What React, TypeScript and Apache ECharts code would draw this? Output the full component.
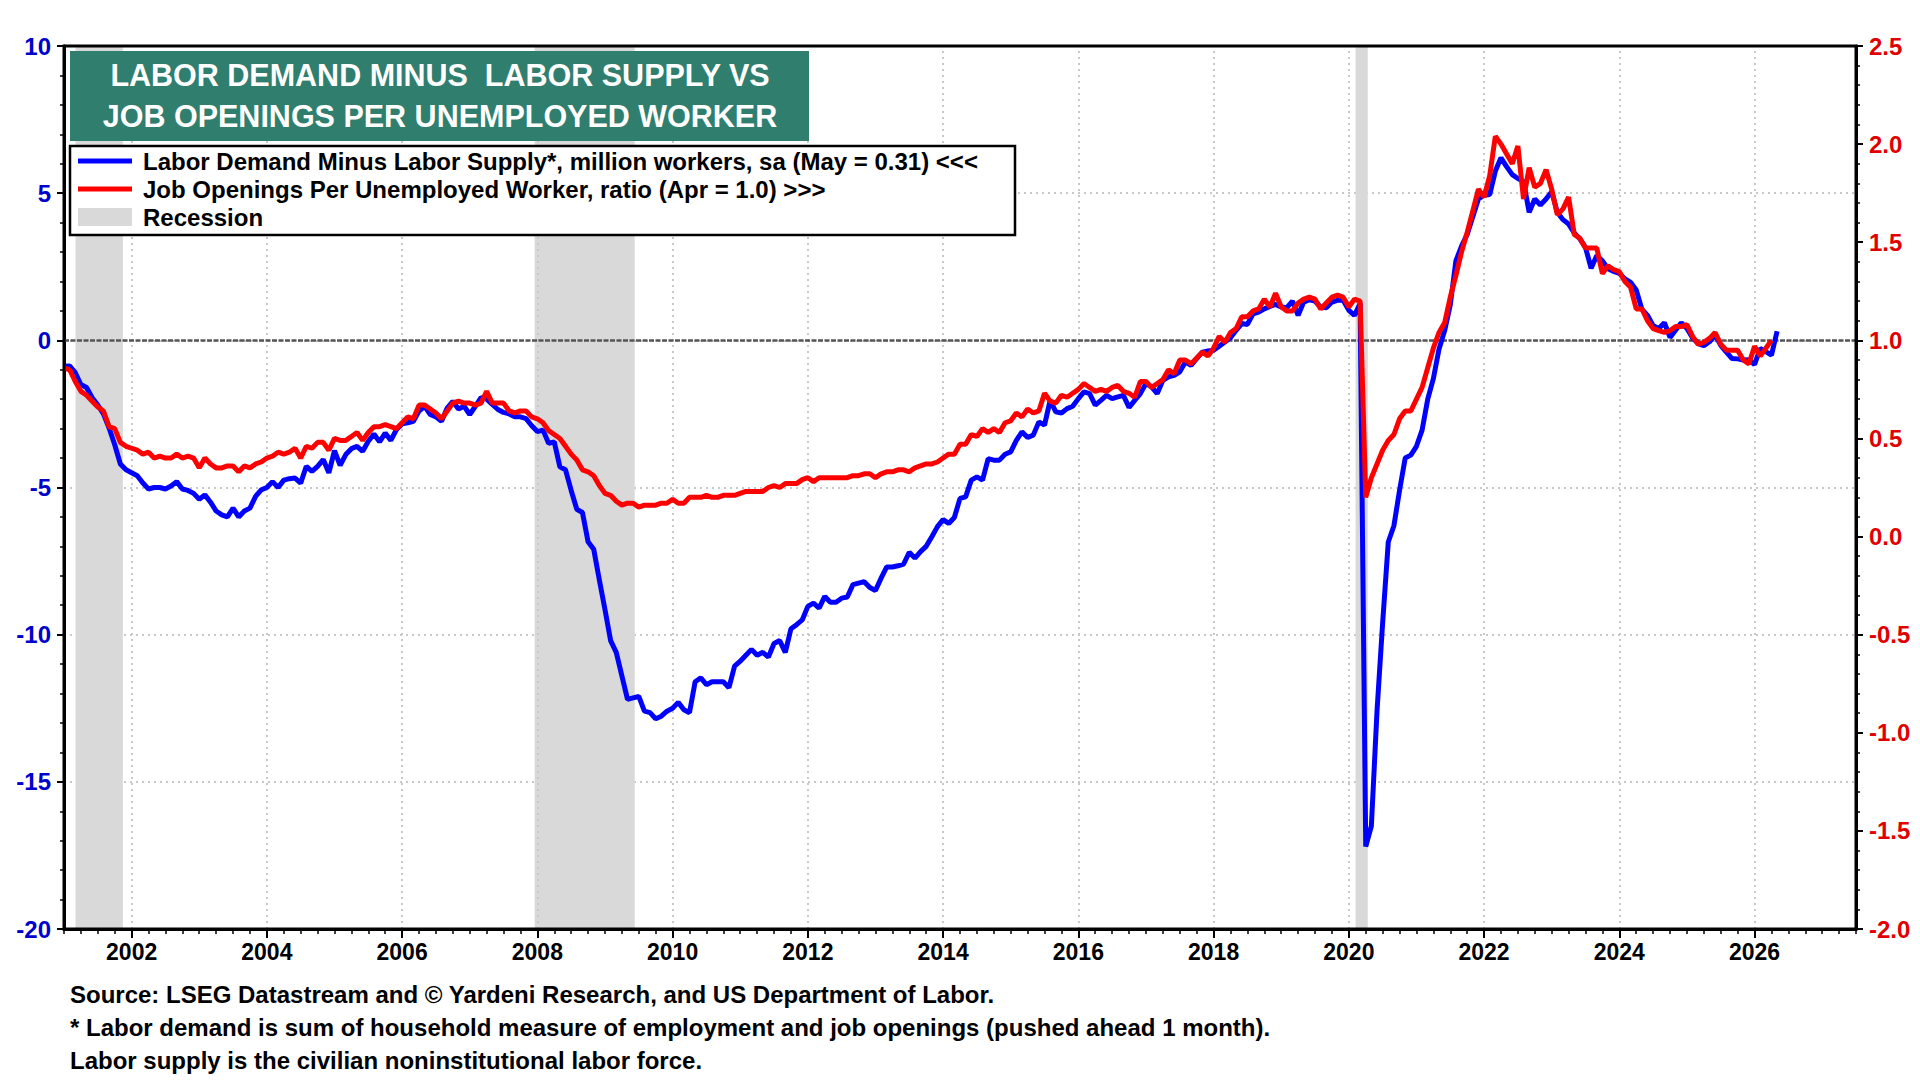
import { useEffect, useRef } from "react"
import * as echarts from "echarts"

// monthly values, first point = Jan 2001
const START_YEAR = 2001

// Labor demand minus labor supply, million workers (left axis), Jan 2001 .. May 2026
const laborGap = [
  -0.88, -0.87, -1.1, -1.5, -1.6, -1.95, -2.2, -2.5, -2.98, -3.55, -4.2, -4.4,
  -4.5, -4.6, -4.85, -5.05, -5.0, -5.0, -5.05, -4.95, -4.8, -5.05, -5.1, -5.2,
  -5.4, -5.25, -5.5, -5.8, -5.93, -6.0, -5.7, -6.0, -5.8, -5.7, -5.3, -5.08,
  -5.0, -4.8, -5.0, -4.75, -4.7, -4.68, -4.85, -4.28, -4.45, -4.28, -4.05, -4.5,
  -3.75, -4.25, -3.88, -3.68, -3.6, -3.77, -3.43, -3.18, -3.45, -3.15, -3.4, -3.03,
  -2.84, -2.8, -2.75, -2.4, -2.24, -2.52, -2.6, -2.75, -2.3, -2.07, -2.33, -2.24,
  -2.52, -2.24, -1.95, -2.0, -2.18, -2.35, -2.45, -2.5, -2.6, -2.6, -2.66, -2.9,
  -3.1, -3.05, -3.5, -3.45, -4.3, -4.4, -5.1, -5.74, -5.85, -6.84, -7.1, -8.14,
  -9.15, -10.2, -10.6, -11.4, -12.2, -12.15, -12.1, -12.6, -12.65, -12.86, -12.77, -12.6,
  -12.5, -12.3, -12.55, -12.65, -11.6, -11.47, -11.7, -11.6, -11.6, -11.6, -11.8, -11.07,
  -10.9, -10.7, -10.5, -10.7, -10.6, -10.76, -10.3, -10.2, -10.6, -9.8, -9.66, -9.5,
  -9.04, -8.93, -9.1, -8.7, -8.9, -8.9, -8.76, -8.72, -8.3, -8.25, -8.2, -8.4,
  -8.5, -8.08, -7.7, -7.7, -7.66, -7.6, -7.2, -7.4, -7.18, -7.0, -6.67, -6.33,
  -6.09, -6.22, -6.02, -5.37, -5.32, -4.75, -4.64, -4.75, -4.02, -4.07, -4.07, -3.87,
  -3.79, -3.4, -3.11, -3.3, -3.22, -2.77, -2.88, -2.04, -2.43, -2.47, -2.32, -2.24,
  -1.98, -1.75, -1.81, -2.2, -2.04, -1.87, -1.98, -1.92, -1.87, -2.28, -2.04, -1.81,
  -1.47, -1.58, -1.81, -1.36, -1.24, -1.19, -1.07, -0.74, -0.85, -0.62, -0.4, -0.36,
  -0.34, -0.2, -0.06, 0.09, 0.34, 0.57, 0.54, 0.9, 0.96, 1.07, 1.15, 1.22,
  1.13, 1.11, 1.33, 0.85, 1.3, 1.38, 1.33, 1.13, 1.11, 1.3, 1.36, 1.36,
  1.02, 0.85, 1.25, -17.2, -16.5, -12.6, -9.6, -6.85, -6.3, -5.1, -4.0, -3.9,
  -3.6, -3.05, -2.0, -1.3, -0.3, 0.33, 1.2, 2.7, 3.2, 3.6, 4.2, 4.8,
  4.93, 4.95, 5.75, 6.2, 5.9, 5.63, 5.5, 5.4, 4.35, 4.8, 4.6, 4.8,
  5.05, 4.35, 4.1, 3.95, 3.65, 3.45, 3.15, 2.45, 2.88, 2.7, 2.43, 2.34,
  2.27, 2.09, 1.97, 1.71, 1.06, 0.85, 0.5, 0.4, 0.6, 0.1, 0.35, 0.6,
  0.4, 0.08, -0.11, -0.18, -0.05, 0.18, -0.17, -0.4, -0.62, -0.63, -0.67, -0.66,
  -0.82, -0.28, -0.38, -0.5, 0.31,
]

// Job openings per unemployed worker, ratio (right axis), Jan 2001 .. Apr 2026
const openingsRatio = [
  0.86, 0.85, 0.79, 0.74, 0.72, 0.69, 0.66, 0.64, 0.56, 0.55, 0.48, 0.46,
  0.45, 0.44, 0.42, 0.43, 0.4, 0.41, 0.4, 0.4, 0.42, 0.4, 0.41, 0.4,
  0.35, 0.4, 0.37, 0.35, 0.35, 0.36, 0.36, 0.33, 0.36, 0.35, 0.37, 0.38,
  0.4, 0.41, 0.43, 0.42, 0.43, 0.45, 0.4, 0.46, 0.45, 0.48, 0.48, 0.44,
  0.5, 0.49, 0.49, 0.51, 0.53, 0.49, 0.53, 0.56, 0.56, 0.57, 0.56, 0.55,
  0.58, 0.61, 0.6, 0.67, 0.67, 0.65, 0.63, 0.6, 0.64, 0.68, 0.69, 0.68,
  0.68, 0.67, 0.68, 0.74, 0.68, 0.68, 0.68, 0.64, 0.63, 0.64, 0.64, 0.61,
  0.6, 0.58, 0.54, 0.52, 0.5, 0.46, 0.42, 0.39, 0.34, 0.33, 0.31, 0.26,
  0.22, 0.21, 0.18, 0.16, 0.17, 0.17, 0.15, 0.16, 0.16, 0.16, 0.17, 0.17,
  0.19, 0.17, 0.17, 0.2, 0.2, 0.2, 0.21, 0.2, 0.2, 0.21, 0.21, 0.21,
  0.22, 0.23, 0.23, 0.23, 0.23, 0.25, 0.26, 0.25, 0.27, 0.27, 0.27, 0.29,
  0.3, 0.28, 0.3, 0.3, 0.3, 0.3, 0.3, 0.3, 0.31, 0.31, 0.32, 0.32,
  0.3, 0.32, 0.33, 0.33, 0.34, 0.34, 0.33, 0.35, 0.36, 0.37, 0.37, 0.38,
  0.4, 0.42, 0.42, 0.47, 0.47, 0.52, 0.51, 0.55, 0.53, 0.55, 0.53, 0.58,
  0.59, 0.63, 0.61, 0.65, 0.63, 0.64, 0.73, 0.69, 0.68, 0.72, 0.71, 0.73,
  0.75, 0.78, 0.76, 0.74, 0.75, 0.74, 0.76, 0.77, 0.74, 0.73, 0.71, 0.79,
  0.79, 0.76, 0.78, 0.8, 0.85, 0.83, 0.9, 0.9, 0.88, 0.91, 0.94, 0.92,
  0.96, 1.02, 0.99, 1.04, 1.06, 1.12, 1.12, 1.15, 1.16, 1.21, 1.17, 1.24,
  1.17, 1.15, 1.15, 1.19, 1.21, 1.22, 1.21, 1.16, 1.19, 1.22, 1.23, 1.22,
  1.17, 1.21, 1.2, 0.2, 0.3, 0.37, 0.44, 0.49, 0.52, 0.6, 0.64, 0.64,
  0.7, 0.76, 0.86, 0.96, 1.04, 1.09, 1.22, 1.33, 1.45, 1.55, 1.66, 1.77,
  1.73, 1.84, 2.04, 2.0, 1.95, 1.9, 1.99, 1.72, 1.88, 1.78, 1.8, 1.87,
  1.77, 1.64, 1.67, 1.73, 1.54, 1.52, 1.47, 1.47, 1.47, 1.34, 1.38, 1.36,
  1.35, 1.3, 1.27, 1.16, 1.16, 1.1, 1.06, 1.05, 1.04, 1.05, 1.07, 1.07,
  1.08, 1.02, 0.98, 0.99, 1.01, 1.04, 0.98, 0.95, 0.95, 0.95, 0.9, 0.88,
  0.97, 0.92, 0.96, 1.0,
]

// recession periods as [start, end] in decimal years
const recessions = [
  [2001.17, 2001.87],
  [2007.96, 2009.44],
  [2020.1, 2020.28],
]

// labelled years: long ticks, dotted verticals
const gridYears = [2002, 2004, 2006, 2008, 2010, 2012, 2014, 2016, 2018, 2020, 2022, 2024, 2026]

const titleLines = ["LABOR DEMAND MINUS  LABOR SUPPLY VS", "JOB OPENINGS PER UNEMPLOYED WORKER"]

const legendItems = [
  { label: "Labor Demand Minus Labor Supply*, million workers, sa (May = 0.31) <<<", color: "#0000ff", kind: "line" },
  { label: "Job Openings Per Unemployed Worker, ratio (Apr = 1.0) >>>", color: "#ff0000", kind: "line" },
  { label: "Recession", color: "#d9d9d9", kind: "box" },
]

const footnotes = [
  "Source: LSEG Datastream and © Yardeni Research, and US Department of Labor.",
  "* Labor demand is sum of household measure of employment and job openings (pushed ahead 1 month).",
  "Labor supply is the civilian noninstitutional labor force.",
]

const FONT = "'Liberation Sans', Arial, sans-serif"

const toPoints = (values: number[]) => values.map((v, i) => [START_YEAR + i / 12, v])

function buildGraphic() {
  const items: any[] = [
    {
      type: "rect",
      silent: true,
      z: 50,
      shape: { x: 64, y: 46, width: 1792, height: 883 },
      style: { fill: "none", stroke: "#000", lineWidth: 3 },
    },
    {
      type: "rect",
      silent: true,
      z: 60,
      shape: { x: 70, y: 51, width: 739, height: 90 },
      style: { fill: "#2f7e6e" },
    },
    {
      type: "rect",
      silent: true,
      z: 60,
      shape: { x: 70, y: 146, width: 945, height: 89 },
      style: { fill: "#fff", stroke: "#000", lineWidth: 2.5 },
    },
  ]

  titleLines.forEach((t, i) => {
    items.push({
      type: "text",
      silent: true,
      z: 61,
      x: 440,
      y: 75 + i * 41,
      style: {
        text: t,
        fill: "#fff",
        fontFamily: FONT,
        fontSize: 30.5,
        fontWeight: "bold",
        textAlign: "center",
        textVerticalAlign: "middle",
      },
    })
  })

  legendItems.forEach((item, i) => {
    const y = 161 + i * 28
    if (item.kind === "line") {
      items.push({
        type: "line",
        silent: true,
        z: 61,
        shape: { x1: 78, y1: y, x2: 132, y2: y },
        style: { stroke: item.color, lineWidth: 5 },
      })
    } else {
      items.push({
        type: "rect",
        silent: true,
        z: 61,
        shape: { x: 78, y: y - 9, width: 54, height: 18 },
        style: { fill: item.color },
      })
    }
    items.push({
      type: "text",
      silent: true,
      z: 61,
      x: 143,
      y,
      style: {
        text: item.label,
        fill: "#000",
        fontFamily: FONT,
        fontSize: 24,
        fontWeight: "bold",
        textAlign: "left",
        textVerticalAlign: "middle",
      },
    })
  })

  footnotes.forEach((t, i) => {
    items.push({
      type: "text",
      silent: true,
      z: 61,
      x: 70,
      y: 994 + i * 33,
      style: {
        text: t,
        fill: "#000",
        fontFamily: FONT,
        fontSize: 24,
        fontWeight: "bold",
        textAlign: "left",
        textVerticalAlign: "middle",
      },
    })
  })

  return items
}

export default function App() {
  const chartRef = useRef<HTMLDivElement>(null)

  useEffect(() => {
    if (!chartRef.current) return
    document.body.style.margin = "0"

    const instance = echarts.init(chartRef.current, null, { renderer: "svg" })

    const axisText = { fontFamily: FONT, fontSize: 24, fontWeight: "bold" as const }
    const blackLine = { color: "#000", width: 3 }

    instance.setOption({
      animation: false,
      backgroundColor: "#fff",
      grid: { left: 64, right: 64, top: 46, bottom: 151 },
      xAxis: [
        {
          type: "value",
          min: 2001,
          max: 2027.5,
          interval: 1,
          axisLine: { show: true, onZero: false, lineStyle: blackLine },
          axisTick: { show: true, length: 5, lineStyle: { color: "#000", width: 1.5 } },
          minorTick: { show: true, splitNumber: 4, length: 5, lineStyle: { color: "#000", width: 1.5 } },
          axisLabel: {
            formatter: (v: number) => (v % 2 === 0 ? String(v) : ""),
            color: "#000",
            fontFamily: FONT,
            fontSize: 23,
            fontWeight: "bold",
            margin: 11,
          },
          splitLine: { show: false },
        },
        {
          // longer ticks at the labelled years only
          type: "value",
          position: "bottom",
          min: 2001,
          max: 2027.5,
          axisLine: { show: false, onZero: false },
          axisTick: { show: true, length: 9, customValues: gridYears, lineStyle: { color: "#000", width: 2 } },
          axisLabel: { show: false },
          splitLine: { show: false },
        },
      ],
      yAxis: [
        {
          type: "value",
          position: "left",
          min: -20,
          max: 10,
          interval: 5,
          axisLine: { show: true, onZero: false, lineStyle: blackLine },
          axisTick: { show: true, length: 7, lineStyle: { color: "#000", width: 2 } },
          minorTick: { show: true, splitNumber: 5, length: 4, lineStyle: { color: "#000", width: 1.5 } },
          axisLabel: { ...axisText, color: "#0000cc", margin: 13 },
          splitLine: { show: true, lineStyle: { color: "#c8c8c8", type: [2, 4], width: 2 } },
        },
        {
          type: "value",
          position: "right",
          min: -2,
          max: 2.5,
          interval: 0.5,
          axisLine: { show: true, onZero: false, lineStyle: blackLine },
          axisTick: { show: true, length: 7, lineStyle: { color: "#000", width: 2 } },
          minorTick: { show: true, splitNumber: 5, length: 4, lineStyle: { color: "#000", width: 1.5 } },
          axisLabel: { ...axisText, color: "#e00000", margin: 13, formatter: (v: number) => v.toFixed(1) },
          splitLine: { show: false },
        },
      ],
      series: [
        {
          // carries the recession shading and the reference lines
          name: "marks",
          type: "line",
          z: 1,
          silent: true,
          showSymbol: false,
          data: toPoints(laborGap),
          lineStyle: { width: 0, opacity: 0 },
          markArea: {
            silent: true,
            z: 0,
            itemStyle: { color: "#d9d9d9" },
            data: recessions.map(([a, b]) => [{ xAxis: a }, { xAxis: b }]),
          },
          markLine: {
            silent: true,
            z: 1,
            symbol: "none",
            label: { show: false },
            data: [
              ...gridYears.map((y) => ({
                xAxis: y,
                lineStyle: { color: "#c8c8c8", type: [2, 4], width: 2 },
              })),
              { yAxis: 0, lineStyle: { color: "#555", type: [5, 1.5], width: 2.5 } },
            ],
          },
        },
        {
          name: "Labor Demand Minus Labor Supply",
          type: "line",
          z: 3,
          yAxisIndex: 0,
          showSymbol: false,
          data: toPoints(laborGap),
          lineStyle: { color: "#0000ff", width: 5 },
          itemStyle: { color: "#0000ff" },
        },
        {
          name: "Job Openings Per Unemployed Worker",
          type: "line",
          z: 4,
          yAxisIndex: 1,
          showSymbol: false,
          data: toPoints(openingsRatio),
          lineStyle: { color: "#ff0000", width: 5 },
          itemStyle: { color: "#ff0000" },
        },
      ],
      graphic: buildGraphic(),
    })

    const handleResize = () => instance.resize()
    window.addEventListener("resize", handleResize)

    return () => {
      window.removeEventListener("resize", handleResize)
      instance.dispose()
    }
  }, [])

  return (
    <div
      ref={chartRef}
      style={{ position: "fixed", left: 0, top: 0, width: 1920, height: 1080, background: "#fff" }}
    />
  )
}
